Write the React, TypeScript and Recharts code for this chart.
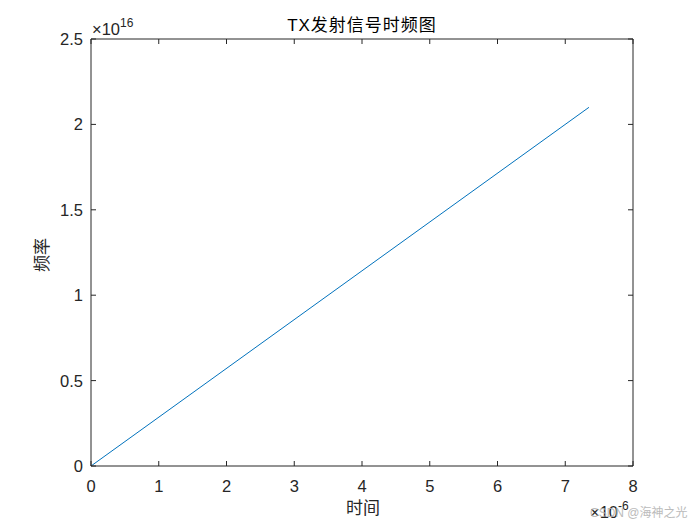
import React from 'react';
import { LineChart, Line, XAxis, YAxis } from 'recharts';

// time in units of 1e-6 s, frequency in units of 1e16 Hz
const TIME = [0, 7.35];
const FREQ = [0, 2.1];
const X_TICKS = [0, 1, 2, 3, 4, 5, 6, 7, 8];
const Y_TICKS = [0, 0.5, 1, 1.5, 2, 2.5];

const data = TIME.map((t, i) => ({ t, f: FREQ[i] }));

const INK = '#262626';
const FONT = '"Liberation Sans", Arial, Helvetica, sans-serif';
const CJK = '"Liberation Sans", "Noto Sans CJK SC", sans-serif';
const TICK_LEN = 5;
const FS = 16.5;

type Side = 'bottom' | 'top' | 'left' | 'right';

// ticks point inward like a MATLAB box, labels only on bottom/left
const makeTick = (side: Side) => (props: any) => {
  const { x, y, payload } = props;
  const v = payload.value;
  if (side === 'bottom') {
    return (
      <g>
        <line x1={x} x2={x} y1={y} y2={y - TICK_LEN} stroke={INK} />
        <text x={x} y={y + 26} textAnchor="middle" fontFamily={FONT} fontSize={FS} fill={INK}>
          {String(v)}
        </text>
      </g>
    );
  }
  if (side === 'top') {
    return <line x1={x} x2={x} y1={y} y2={y + TICK_LEN} stroke={INK} />;
  }
  if (side === 'left') {
    return (
      <g>
        <line x1={x} x2={x + TICK_LEN} y1={y} y2={y} stroke={INK} />
        <text x={x - 8} y={y + 6} textAnchor="end" fontFamily={FONT} fontSize={FS} fill={INK}>
          {String(v)}
        </text>
      </g>
    );
  }
  return <line x1={x} x2={x - TICK_LEN} y1={y} y2={y} stroke={INK} />;
};

export default function App() {
  return (
    <div style={{ position: 'absolute', left: 0, top: 0, width: 700, height: 525, background: '#fff' }}>
      <LineChart width={700} height={525} data={data} margin={{ top: 0, right: 0, bottom: 0, left: 0 }}>
        <XAxis
          xAxisId="b"
          dataKey="t"
          type="number"
          domain={[0, 8]}
          ticks={X_TICKS}
          interval={0}
          height={59}
          tickSize={0}
          tickMargin={0}
          tickLine={false}
          axisLine={{ stroke: INK }}
          tick={makeTick('bottom')}
        />
        <XAxis
          xAxisId="t"
          orientation="top"
          dataKey="t"
          type="number"
          domain={[0, 8]}
          ticks={X_TICKS}
          interval={0}
          height={39}
          tickSize={0}
          tickMargin={0}
          tickLine={false}
          axisLine={{ stroke: INK }}
          tick={makeTick('top')}
        />
        <YAxis
          yAxisId="l"
          type="number"
          domain={[0, 2.5]}
          ticks={Y_TICKS}
          interval={0}
          width={91}
          tickSize={0}
          tickMargin={0}
          tickLine={false}
          axisLine={{ stroke: INK }}
          tick={makeTick('left')}
        />
        <YAxis
          yAxisId="r"
          orientation="right"
          type="number"
          domain={[0, 2.5]}
          ticks={Y_TICKS}
          interval={0}
          width={67}
          tickSize={0}
          tickMargin={0}
          tickLine={false}
          axisLine={{ stroke: INK }}
          tick={makeTick('right')}
        />
        <Line
          xAxisId="b"
          yAxisId="l"
          type="linear"
          dataKey="f"
          stroke="#0072BD"
          strokeWidth={1}
          dot={false}
          activeDot={false}
          isAnimationActive={false}
        />
        <Line
          xAxisId="t"
          yAxisId="r"
          type="linear"
          dataKey="f"
          stroke="none"
          dot={false}
          activeDot={false}
          isAnimationActive={false}
        />
      </LineChart>
      <svg width={700} height={525} style={{ position: 'absolute', left: 0, top: 0, pointerEvents: 'none' }}>
        <text x={362} y={31} textAnchor="middle" fontFamily={CJK} fontSize={17} letterSpacing={1} fill="#000">
          TX发射信号时频图
        </text>
        <text x={363} y={514} textAnchor="middle" fontFamily={CJK} fontSize={17} fill={INK}>
          时间
        </text>
        <text
          x={48}
          y={255}
          transform="rotate(-90 48 255)"
          textAnchor="middle"
          fontFamily={CJK}
          fontSize={17}
          fill={INK}
        >
          频率
        </text>
        <text x={92} y={35} fontFamily={FONT} fontSize={FS} fill={INK}>
          ×10
          <tspan fontSize={12} dy={-8}>16</tspan>
        </text>
        <text x={590} y={518} fontFamily={FONT} fontSize={FS} fill={INK}>
          ×10
          <tspan fontSize={12} dy={-8}>-6</tspan>
        </text>
        <text x={590} y={517} fontFamily={CJK} fontSize={12} fill="#b0b0b0" opacity={0.85}>
          CSDN @海神之光
        </text>
      </svg>
    </div>
  );
}
